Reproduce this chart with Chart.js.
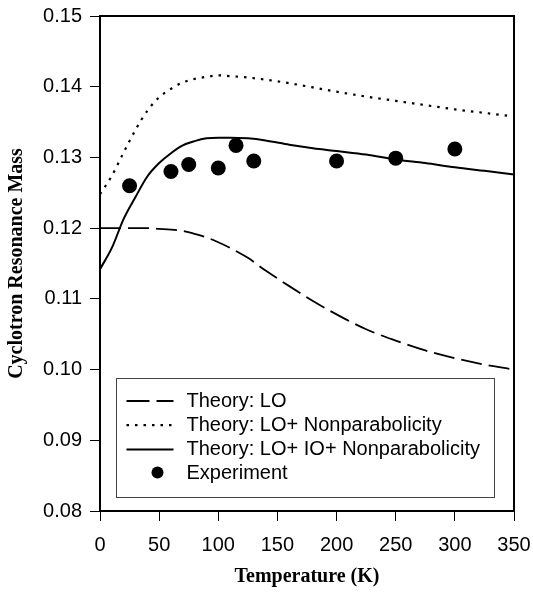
<!DOCTYPE html>
<html>
<head>
<meta charset="utf-8">
<script src="https://cdn.jsdelivr.net/npm/chart.js@4.4.1/dist/chart.umd.min.js"></script>
<style>
  html, body { margin: 0; padding: 0; background: #fff; overflow: hidden; }
  #wrap { width: 533px; height: 594px; }
</style>
</head>
<body>
<div id="wrap"><canvas id="myChart" width="533" height="594"></canvas></div>
<script>
const temps = [0, 10, 20, 30, 40, 50, 60, 70, 80, 90, 100, 110, 125, 140, 160, 180, 200, 225, 250, 275, 300, 325, 350];

const theoryLO   = [0.1200, 0.1200, 0.1200, 0.1200, 0.1200, 0.1199, 0.1198, 0.1196, 0.1192, 0.1187, 0.1180, 0.1172, 0.1158, 0.1140, 0.1118, 0.1097, 0.1078, 0.1057, 0.1041, 0.1027, 0.1016, 0.1007, 0.1000];
const theoryLONp = [0.1248, 0.1274, 0.1307, 0.1339, 0.1366, 0.1385, 0.1397, 0.1406, 0.1411, 0.1414, 0.1416, 0.1415, 0.1413, 0.1410, 0.1405, 0.1399, 0.1393, 0.1386, 0.1380, 0.1374, 0.1368, 0.1363, 0.1358];
const theoryFull = [0.1142, 0.1172, 0.1213, 0.1244, 0.1273, 0.1292, 0.1306, 0.1317, 0.1323, 0.1327, 0.1328, 0.1328, 0.1327, 0.1324, 0.1318, 0.1313, 0.1309, 0.1304, 0.1297, 0.1292, 0.1286, 0.1281, 0.1276];

const expTemps = [25, 60, 75, 100, 115, 130, 200, 250, 300];
const expMass  = [0.1260, 0.1280, 0.1290, 0.1285, 0.1317, 0.1295, 0.1295, 0.1299, 0.1312];

const seriesNames = ["Theory: LO", "Theory: LO+ Nonparabolicity", "Theory: LO+ IO+ Nonparabolicity", "Experiment"];

const xTickValues = [0, 50, 100, 150, 200, 250, 300, 350];
const yTickValues = [0.08, 0.09, 0.10, 0.11, 0.12, 0.13, 0.14, 0.15];

const sansFont = "'Liberation Sans', Arial, sans-serif";
const serifFont = "'Liberation Serif', 'Times New Roman', serif";

function pts(xs, ys) {
  return xs.map((x, i) => ({x: x, y: ys[i]}));
}

// box around the plot (top and right sides)
const frame = {
  id: 'frame',
  beforeDatasetsDraw(chart) {
    const a = chart.chartArea;
    const ctx = chart.ctx;
    ctx.save();
    ctx.strokeStyle = '#000';
    ctx.lineWidth = 2;
    ctx.strokeRect(a.left, a.top, a.right - a.left, a.bottom - a.top);
    ctx.restore();
  }
};

// legend drawn inside the plot, lower part
const insideLegend = {
  id: 'insideLegend',
  afterDraw(chart) {
    const a = chart.chartArea;
    const ctx = chart.ctx;
    const left = a.left + 16.5, top = a.top + 362.5;
    const w = 378, h = 119;
    ctx.save();
    ctx.fillStyle = '#fff';
    ctx.fillRect(left, top, w, h);
    ctx.strokeStyle = '#444';
    ctx.lineWidth = 1;
    ctx.strokeRect(left, top, w, h);

    ctx.font = '20px ' + sansFont;
    ctx.textBaseline = 'middle';
    ctx.textAlign = 'left';
    chart.data.datasets.forEach((ds, i) => {
      const y = top + 22.5 + i * 24.2;
      ctx.strokeStyle = '#000';
      ctx.fillStyle = '#000';
      if (ds.showLine === false) {
        ctx.beginPath();
        ctx.arc(left + 41, y - 1, 6, 0, Math.PI * 2);
        ctx.fill();
      } else {
        ctx.lineWidth = ds.borderWidth;
        ctx.setLineDash(ds.legendDash || []);
        ctx.beginPath();
        ctx.moveTo(left + 10, y);
        ctx.lineTo(left + 57, y);
        ctx.stroke();
        ctx.setLineDash([]);
      }
      ctx.fillText(ds.label, left + 70, y);
    });
    ctx.restore();
  }
};

new Chart(document.getElementById('myChart'), {
  type: 'line',
  data: {
    datasets: [{
      label: seriesNames[0],
      data: pts(temps, theoryLO),
      borderColor: '#000',
      borderWidth: 1.8,
      borderDash: [21, 7],
      legendDash: [23, 7],
      pointRadius: 0,
      cubicInterpolationMode: 'monotone',
      fill: false
    }, {
      label: seriesNames[1],
      data: pts(temps, theoryLONp),
      borderColor: '#000',
      borderWidth: 2.2,
      borderDash: [2.5, 6],
      legendDash: [2.5, 6],
      pointRadius: 0,
      cubicInterpolationMode: 'monotone',
      fill: false
    }, {
      label: seriesNames[2],
      data: pts(temps, theoryFull),
      borderColor: '#000',
      borderWidth: 2,
      pointRadius: 0,
      cubicInterpolationMode: 'monotone',
      fill: false
    }, {
      label: seriesNames[3],
      data: pts(expTemps, expMass),
      showLine: false,
      borderColor: '#000',
      backgroundColor: '#000',
      pointRadius: 7.5,
      pointBorderWidth: 0,
      order: -1
    }]
  },
  options: {
    responsive: false,
    devicePixelRatio: 1,
    animation: false,
    events: [],
    layout: { padding: { top: 16, right: 19, left: 0, bottom: 0 } },
    plugins: {
      legend: { display: false },
      tooltip: { enabled: false }
    },
    scales: {
      x: {
        type: 'linear',
        min: 0,
        max: 350,
        afterBuildTicks: s => { s.ticks = xTickValues.map(v => ({value: v})); },
        afterFit: s => { s.height = 83; s.paddingLeft = 0; s.paddingRight = 0; },
        ticks: {
          color: '#000',
          padding: 12,
          maxRotation: 0,
          font: { family: sansFont, size: 20 },
          callback: v => String(v)
        },
        grid: { drawOnChartArea: false, drawTicks: true, tickLength: 10, color: '#000', lineWidth: 1 },
        border: { display: true, color: '#000', width: 2 },
        title: {
          display: true,
          text: 'Temperature (K)',
          color: '#000',
          font: { family: serifFont, size: 20, weight: 'bold' },
          padding: { top: 0, bottom: 5 }
        }
      },
      y: {
        type: 'linear',
        min: 0.08,
        max: 0.15,
        afterBuildTicks: s => { s.ticks = yTickValues.map(v => ({value: v})); },
        afterFit: s => { s.width = 100; s.paddingTop = 0; s.paddingBottom = 0; },
        ticks: {
          color: '#000',
          padding: 8,
          font: { family: sansFont, size: 20 },
          callback: v => v.toFixed(2)
        },
        grid: { drawOnChartArea: false, drawTicks: true, tickLength: 10, color: '#000', lineWidth: 1 },
        border: { display: true, color: '#000', width: 2 },
        title: {
          display: true,
          text: 'Cyclotron Resonance Mass',
          color: '#000',
          font: { family: serifFont, size: 20, weight: 'bold' },
          padding: { top: 5, bottom: 0 }
        }
      }
    }
  },
  plugins: [frame, insideLegend]
});
</script>
</body>
</html>
